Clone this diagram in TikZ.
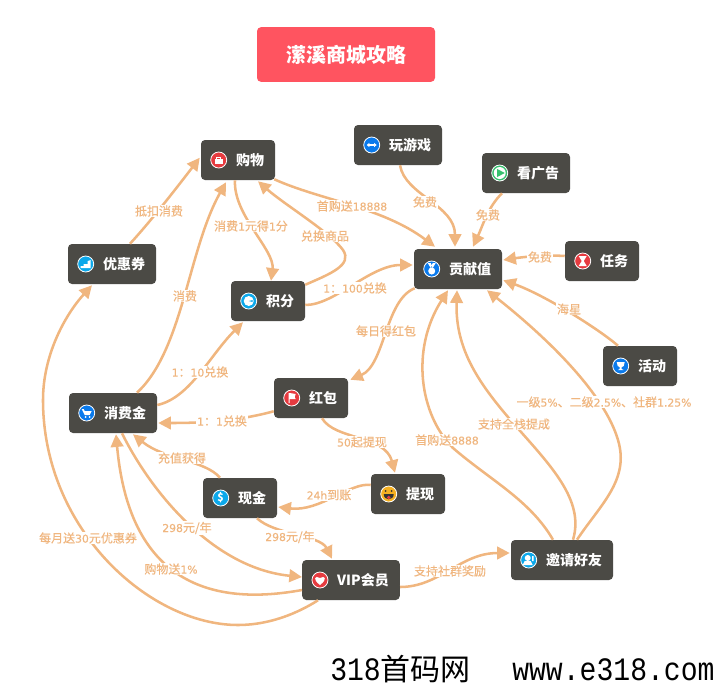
\documentclass[tikz,border=0pt]{standalone}
\usepackage{fontspec}
\usetikzlibrary{arrows.meta}
\usetikzlibrary{positioning}
\setmainfont{Noto Sans CJK SC}
\newfontfamily\edfont{Noto Sans CJK SC}[FakeBold=.35]
\newfontfamily\numfont{DejaVu Sans}[Scale=.9,FakeBold=.25]
\newfontfamily\wmfont{Liberation Mono}[FakeStretch=.86]
\newcommand{\nm}[1]{{\numfont #1}}
\definecolor{boxgrey}{HTML}{4B4A45}
\definecolor{linkor}{HTML}{F0B67F}
\definecolor{titlered}{HTML}{FF5460}
\definecolor{icred}{HTML}{E63B40}
\definecolor{icblue}{HTML}{0A7AEC}
\definecolor{iccyan}{HTML}{0CA8EA}
\definecolor{icgreen}{HTML}{36C16E}
\definecolor{icyellow}{HTML}{F5B021}
\tikzset{>={Triangle[length=9.5pt,width=9.5pt]}}
\tikzset{mm/.style={fill=boxgrey,text=white,rounded corners=3pt,minimum height=30pt,inner xsep=8.25pt,inner ysep=0pt,font=\fontsize{10.5pt}{12pt}\selectfont\bfseries}}
\tikzset{icon/.style={circle,draw=white,line width=.6pt,minimum size=12pt,inner sep=0pt}}
\tikzset{glyph/.style={fill=white,draw=none}}
\tikzset{link/.style={draw=linkor,line width=1.9pt}}
\tikzset{ed/.style={fill=white,inner sep=.5pt,text=linkor,font=\fontsize{9pt}{10pt}\selectfont\edfont}}
\newcommand{\pad}{\hspace*{18pt}}
\begin{document}
\begin{tikzpicture}[x=.75pt,y=-.75pt]
        \useasboundingbox (0,0) rectangle (715,687);
        \node[fill=titlered,text=white,rounded corners=3pt,minimum width=133.5pt,minimum height=41pt,font=\fontsize{15pt}{17pt}\selectfont\bfseries] (title) at (346,54.5) {潆溪商城攻略};
        % boxes
        \node[mm] (gouwu) at (238,160) {\pad 购物};
        \node[mm] (youhui) at (112,264) {\pad 优惠券};
        \node[mm] (jifen) at (268,301) {\pad 积分};
        \node[mm] (youxi) at (398,145) {\pad 玩游戏};
        \node[mm] (guanggao) at (526,173) {\pad 看广告};
        \node[mm] (gongxian) at (458,269) {\pad 贡献值};
        \node[mm] (renwu) at (602,261) {\pad 任务};
        \node[mm] (huodong) at (640,366) {\pad 活动};
        \node[mm] (hongbao) at (311,398) {\pad 红包};
        \node[mm] (xiaofei) at (113,413) {\pad 消费金};
        \node[mm] (tixian) at (408,494) {\pad 提现};
        \node[mm] (xianjin) at (240,498) {\pad 现金};
        \node[mm] (vip) at (351,580) {\pad VIP会员};
        \node[mm] (yaoqing) at (562,560) {\pad 邀请好友};
        % icons
        \foreach \nn/\cc in {gouwu/icred,youhui/iccyan,jifen/iccyan,youxi/icblue,guanggao/icgreen,gongxian/icblue,renwu/icred,huodong/icblue,hongbao/icred,xiaofei/icblue,tixian/icyellow,xianjin/iccyan,vip/icred,yaoqing/iccyan}
            \node[icon,fill=\cc,right=13.5pt of \nn.west,anchor=center] (\nn-ic) {};
        % glyphs
        \fill[glyph,shift={(gouwu-ic)}] (-4,-1) rectangle (4,4);
        \draw[white,line width=.6pt,shift={(gouwu-ic)}] (-2,-1) -- (-2,-3) -- (2,-3) -- (2,-1);
        \fill[glyph,shift={(youhui-ic)}] (-5,4) -- (5,4) -- (5,-4) -- (2,-3) -- (2,0) -- (-2,0) -- (-2,2) -- (-5,2) -- cycle;
        \fill[glyph,shift={(jifen-ic)}] (0,0) circle (5);
        \fill[iccyan,shift={(jifen-ic)}] (0,0) -- (4,-1) -- (4,1) -- cycle;
        \draw[white,line width=.8pt,<->,>={Triangle[length=2pt,width=3pt]},shift={(youxi-ic)}] (-5,0) -- (5,0);
        \fill[glyph,shift={(guanggao-ic)}] (0,0) circle (6);
        \fill[icgreen,shift={(guanggao-ic)}] (-2.5,-4) -- (5,0) -- (-2.5,4) -- cycle;
        \fill[glyph,shift={(gongxian-ic)}] (0,2) circle (3.5) (-4,-6) -- (-1,-6) -- (1,-1) -- (-1,-1) -- cycle (4,-6) -- (1,-6) -- (-1,-1) -- (1,-1) -- cycle;
        \fill[glyph,shift={(renwu-ic)}] (-4,-5) -- (4,-5) -- (1,0) -- (4,5) -- (-4,5) -- (-1,0) -- cycle;
        \fill[glyph,shift={(huodong-ic)}] (-4,-4) -- (4,-4) -- (3,0) -- (1,1) -- (1,3) -- (3,4) -- (-3,4) -- (-1,3) -- (-1,1) -- (-3,0) -- cycle;
        \fill[glyph,shift={(hongbao-ic)}] (-3,-5) rectangle (-2,5) (-2,-5) -- (4,-4) -- (3,-1) -- (4,1) -- (-2,1) -- cycle;
        \fill[glyph,shift={(xiaofei-ic)}] (-5,-4) -- (-3,-4) -- (-2,-2) -- (5,-2) -- (3,2) -- (-2,2) -- cycle (-1,4) circle (1) (3,4) circle (1);
        \fill[black!80,shift={(tixian-ic)}] (-5,0) -- (5,0) .. controls (5,7) and (-5,7) .. (-5,0) -- cycle (-3,-3) circle (1) (3,-3) circle (1);
        \fill[icred,shift={(tixian-ic)}] (0,3.5) circle (1.8);
        \node[text=white,inner sep=0pt,font=\fontsize{8pt}{8pt}\selectfont\bfseries] (xianjin-d) at (xianjin-ic) {\$};
        \fill[glyph,shift={(vip-ic)}] (0,5) .. controls (-8,-1) and (-5,-5) .. (0,-2) .. controls (5,-5) and (8,-1) .. (0,5) -- cycle;
        \fill[glyph,shift={(yaoqing-ic)}] (-1,-2) circle (3) (-6,5) -- (-4,1) -- (2,1) -- (4,5) -- cycle (3.5,-4) rectangle (5,1);
        % links
        \draw[link,->] (youhui.north) ++(18,0) .. controls (150,222) and (175,190) .. ([shift={(-1,18)}]gouwu.north west) node[ed] at (159,211) {抵扣消费};
        \draw[link,->] ([shift={(24,0)}]xiaofei.north) .. controls (183,350) and (188,250) .. ([shift={(-12,2)}]gouwu.south) node[ed] at (185,296) {消费};
        \draw[link,->] ([shift={(-3,0)}]gouwu.south) .. controls (233,215) and (275,250) .. ([shift={(3,0)}]jifen.north) node[ed] at (251,226) {消费\nm{1}元得\nm{1}分};
        \draw[link,->] ([shift={(0,4)}]jifen.north east) .. controls (330,274) and (353,265) .. (343,250) .. controls (330,232) and (285,205) .. ([shift={(20,1)}]gouwu.south) node[ed] at (325,236) {兑换商品};
        \draw[link,->] ([shift={(-1,-1)}]gouwu.south east) .. controls (320,200) and (382,207) .. ([shift={(-23,-2)}]gongxian.north) node[ed] at (352,206) {首购送\nm{18888}};
        \draw[link,->] ([shift={(0,4)}]jifen.east) .. controls (335,305) and (370,265) .. ([shift={(-1,-4)}]gongxian.west) node[ed] at (355,288) {\nm{1}：\nm{100}兑换};
        \draw[link,->] ([shift={(2,0)}]youxi.south) .. controls (405,195) and (455,205) .. ([shift={(-3,-2)}]gongxian.north) node[ed] at (425,202) {免费};
        \draw[link,->] ([shift={(-24,0)}]guanggao.south) .. controls (488,207) and (483,225) .. ([shift={(15,-2)}]gongxian.north) node[ed] at (488,215) {免费};
        \draw[link,->] ([shift={(0,-5)}]renwu.west) .. controls (550,255) and (530,256) .. ([shift={(1,-9)}]gongxian.east) node[ed] at (540,257) {免费};
        \draw[link,->] ([shift={(-22,0)}]huodong.north) .. controls (600,330) and (545,295) .. ([shift={(1,-9)}]gongxian.south east) node[ed] at (569,309) {海星};
        \draw[link,->] ([shift={(1,-1)}]gongxian.south west) .. controls (385,300) and (385,365) .. ([shift={(2,2)}]hongbao.north east) node[ed] at (386,331) {每日得红包};
        \draw[link,->] ([shift={(0,-7)}]hongbao.south west) .. controls (235,422) and (195,423) .. ([shift={(1,10)}]xiaofei.east) node[ed] at (222,421) {\nm{1}：\nm{1}兑换};
        \draw[link,->] ([shift={(0,-8)}]xiaofei.east) .. controls (190,398) and (210,355) .. ([shift={(-25,1)}]jifen.south) node[ed] at (200,372) {\nm{1}：\nm{10}兑换};
        \draw[link,->] ([shift={(11,0)}]hongbao.south) .. controls (335,440) and (385,435) .. ([shift={(-13,-1)}]tixian.north) node[ed] at (362,442) {\nm{50}起提现};
        \draw[link,->] ([shift={(0,-9)}]tixian.west) .. controls (350,482) and (320,512) .. ([shift={(1,9)}]xianjin.east) node[ed] at (329,495) {\nm{24h}到账};
        \draw[link,->] ([shift={(-20,0)}]xianjin.north) .. controls (205,460) and (165,460) .. ([shift={(20,1)}]xiaofei.south) node[ed] at (182,458) {充值获得};
        \draw[link,->] ([shift={(9,0)}]xiaofei.south) .. controls (150,490) and (212,568) .. ([shift={(0,-3)}]vip.west) node[ed] at (187,528) {\nm{298}元/年};
        \draw[link,->] ([shift={(17,0)}]xianjin.south) .. controls (275,535) and (320,535) .. ([shift={(-19,-1)}]vip.north) node[ed] at (290,537) {\nm{298}元/年};
        \draw[link,->] ([shift={(0,10)}]vip.west) .. controls (220,605) and (130,590) .. ([shift={(3,1)}]xiaofei.south) node[ed] at (171,569) {购物送\nm{1\%}};
        \draw[link,->] ([shift={(-33,0)}]vip.south) .. controls (290,618) and (262,625) .. (238,625) .. controls (150,625) and (43,530) .. (43,400) .. controls (43,355) and (65,315) .. ([shift={(-20,1)}]youhui.south) node[ed] at (88,538) {每月送\nm{30}元优惠券};
        \draw[link,->] ([shift={(0,7)}]vip.east) .. controls (440,587) and (460,553) .. ([shift={(-1,-7)}]yaoqing.west) node[ed] at (450,571) {支持社群奖励};
        \draw[link,->] ([shift={(-9,0)}]yaoqing.north) .. controls (530,500) and (490,480) .. (453,448) .. controls (420,415) and (410,350) .. ([shift={(-10,1)}]gongxian.south) node[ed] at (447,440) {首购送\nm{8888}};
        \draw[link,->] ([shift={(11,0)}]yaoqing.north) .. controls (585,500) and (550,465) .. (514,424) .. controls (480,385) and (455,350) .. ([shift={(-1,1)}]gongxian.south) node[ed] at (514,424) {支持全栈提成};
        \draw[link,->] ([shift={(15,0)}]yaoqing.north) .. controls (600,505) and (630,480) .. (618,440) .. controls (605,395) and (550,340) .. ([shift={(29,1)}]gongxian.south) node[ed] at (604,402) {一级\nm{5\%}、二级\nm{2.5\%}、社群\nm{1.25\%}};
        % footer
        \node[inner sep=0pt,anchor=base west,font=\fontsize{24.5pt}{26pt}\selectfont] (foot1) at (330,680) {\wmfont 318\normalfont\fontsize{22.5pt}{26pt}\selectfont 首码网};
        \node[inner sep=0pt,anchor=base west,font=\fontsize{24.5pt}{26pt}\selectfont] (foot2) at (512,680) {\wmfont www.e318.com};
    \end{tikzpicture}
\end{document}
